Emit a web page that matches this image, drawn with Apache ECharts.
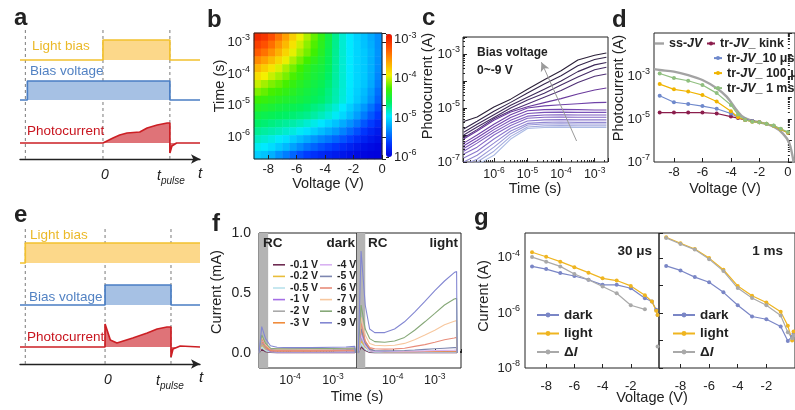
<!DOCTYPE html>
<html>
<head>
<meta charset="utf-8">
<title>Transient photocurrent panels</title>
<script src="https://cdn.jsdelivr.net/npm/echarts@6.0.0/dist/echarts.min.js"></script>
<style>
  html, body { margin: 0; padding: 0; background: #fff; }
  #chart { width: 795px; height: 410px; }
</style>
</head>
<body>
<div id="chart"></div>
<script>
const FONT = '"Liberation Sans", Arial, Helvetica, sans-serif';
const INK = '#222';

/* ---------- a, e: timing schematics (time in units of t_pulse, levels in arbitrary units) ---------- */
const A_LIGHT = [[-1.24, 9.9], [0, 9.9], [0, 11.9], [1, 11.9], [1, 9.9], [1.45, 9.9]];
const A_BIAS  = [[-1.24, 5.9], [-1.13, 5.9], [-1.13, 7.8], [1, 7.8], [1, 5.9], [1.45, 5.9]];
const A_PHOTO = [[-1.24, 1.6], [0, 1.6], [0.15, 2.1], [0.25, 2.4], [0.36, 2.6], [0.55, 2.7], [0.66, 3.1],
                 [0.81, 3.4], [0.96, 3.6], [1, 3.6], [1, 0.6], [1.03, 1.3], [1.1, 1.6], [1.45, 1.6]];
const A_BASE  = [9.9, 5.9, 1.6];
const A_MARKS = [-1.16, 0, 1];

const E_LIGHT = [[-1.29, 10.1], [-1.21, 10.1], [-1.21, 12.1], [1.44, 12.1]];
const E_BIAS  = [[-1.29, 5.9], [0, 5.9], [0, 7.9], [1, 7.9], [1, 5.9], [1.44, 5.9]];
const E_PHOTO = [[-1.29, 1.7], [0, 1.7], [0, 4.0], [0.08, 2.4], [0.18, 2.1], [0.42, 2.6], [0.64, 3.1],
                 [0.79, 3.5], [0.94, 3.7], [1, 3.7], [1, 0.7], [1.03, 1.5], [1.14, 1.8], [1.44, 1.7]];
const E_BASE  = [10.1, 5.9, 1.7];
const E_MARKS = [-1.21, 0, 1];

/* ---------- b: log10 photocurrent map over bias voltage and time ---------- */
const HM_VOLT = [-8.75, -8.25, -7.75, -7.25, -6.75, -6.25, -5.75, -5.25, -4.75, -4.25, -3.75, -3.25, -2.75, -2.25, -1.75, -1.25, -0.75, -0.25];
const HM_LOGT = [-2.825, -3.075, -3.325, -3.575, -3.825, -4.075, -4.325, -4.575, -4.825, -5.075, -5.325, -5.575, -5.825, -6.075, -6.325, -6.575];
const HM_ROWS = [
  [-2.99,-3.06,-3.19,-3.36,-3.55,-3.75,-3.91,-4.04,-4.18,-4.33,-4.5,-4.7,-4.85,-4.95,-5.04,-5.11,-5.2,-5.3],
  [-3.12,-3.2,-3.33,-3.5,-3.66,-3.84,-3.98,-4.1,-4.22,-4.36,-4.52,-4.7,-4.85,-4.95,-5.03,-5.1,-5.18,-5.3],
  [-3.25,-3.35,-3.48,-3.63,-3.78,-3.93,-4.05,-4.15,-4.26,-4.39,-4.54,-4.71,-4.85,-4.95,-5.03,-5.08,-5.16,-5.29],
  [-3.45,-3.55,-3.67,-3.79,-3.92,-4.04,-4.15,-4.25,-4.35,-4.44,-4.56,-4.72,-4.85,-4.95,-5.03,-5.08,-5.17,-5.3],
  [-3.65,-3.75,-3.85,-3.95,-4.05,-4.15,-4.25,-4.35,-4.43,-4.48,-4.58,-4.73,-4.85,-4.95,-5.03,-5.08,-5.17,-5.31],
  [-3.82,-3.9,-3.99,-4.06,-4.14,-4.23,-4.31,-4.39,-4.46,-4.51,-4.61,-4.74,-4.85,-4.95,-5.03,-5.08,-5.18,-5.34],
  [-3.99,-4.06,-4.13,-4.18,-4.24,-4.31,-4.38,-4.44,-4.5,-4.55,-4.64,-4.75,-4.85,-4.95,-5.03,-5.09,-5.2,-5.37],
  [-4.13,-4.18,-4.24,-4.28,-4.33,-4.38,-4.44,-4.49,-4.54,-4.59,-4.67,-4.77,-4.86,-4.96,-5.05,-5.13,-5.25,-5.43],
  [-4.27,-4.3,-4.34,-4.38,-4.42,-4.45,-4.49,-4.53,-4.58,-4.62,-4.69,-4.78,-4.87,-4.97,-5.07,-5.16,-5.29,-5.48],
  [-4.39,-4.42,-4.45,-4.49,-4.52,-4.55,-4.58,-4.62,-4.67,-4.71,-4.78,-4.86,-4.95,-5.05,-5.16,-5.27,-5.41,-5.57],
  [-4.51,-4.54,-4.56,-4.59,-4.61,-4.64,-4.67,-4.7,-4.75,-4.8,-4.86,-4.93,-5.02,-5.12,-5.24,-5.38,-5.52,-5.65],
  [-4.61,-4.64,-4.67,-4.7,-4.73,-4.76,-4.8,-4.85,-4.9,-4.96,-5.03,-5.1,-5.19,-5.29,-5.4,-5.53,-5.64,-5.75],
  [-4.71,-4.74,-4.77,-4.8,-4.84,-4.88,-4.93,-4.99,-5.05,-5.12,-5.19,-5.26,-5.35,-5.45,-5.56,-5.67,-5.76,-5.84],
  [-4.82,-4.85,-4.89,-4.94,-4.99,-5.06,-5.13,-5.2,-5.27,-5.34,-5.4,-5.47,-5.54,-5.62,-5.71,-5.79,-5.85,-5.9],
  [-4.92,-4.95,-5.0,-5.07,-5.14,-5.23,-5.32,-5.41,-5.48,-5.55,-5.61,-5.67,-5.73,-5.79,-5.85,-5.9,-5.93,-5.96],
  [-5.06,-5.1,-5.17,-5.28,-5.37,-5.47,-5.56,-5.64,-5.7,-5.75,-5.79,-5.83,-5.86,-5.9,-5.93,-5.96,-5.98,-5.99]
];
const HM_COLORS = ['#0000dc', '#0038ff', '#0090ff', '#00eaff', '#00f060', '#40f000', '#f4f000', '#ffa000', '#ff5000', '#e81000'];
const HM_MARK_T = [1e-3, 1e-4, 1e-5];
const HM_MARK_TXT = ['1 ms', '100 \u03bcs', '10 \u03bcs'];

/* ---------- c: photocurrent transients, one row per bias (log10 A), -9 V first ---------- */
const C_TIME = [1.26e-7, 3.16e-7, 1e-6, 3.16e-6, 1e-5, 3.16e-5, 1e-4, 3.16e-4, 1e-3, 2.24e-3];
const C_LOGI = [
  [-5.5, -5.33, -4.96, -4.67, -4.3, -3.95, -3.62, -3.22, -3.04, -2.96],
  [-5.78, -5.49, -5.12, -4.79, -4.44, -4.11, -3.8, -3.43, -3.2, -3.12],
  [-5.9, -5.6, -5.25, -4.9, -4.6, -4.3, -4.0, -3.65, -3.4, -3.31],
  [-6.0, -5.7, -5.35, -5.0, -4.7, -4.45, -4.15, -3.85, -3.58, -3.49],
  [-6.1, -5.8, -5.4, -5.1, -4.85, -4.6, -4.35, -4.05, -3.82, -3.74],
  [-6.15, -5.85, -5.45, -5.15, -4.95, -4.8, -4.65, -4.48, -4.33, -4.26],
  [-6.3, -6.0, -5.6, -5.25, -5.0, -4.92, -4.88, -4.84, -4.8, -4.79],
  [-6.4, -6.1, -5.7, -5.35, -5.1, -5.06, -5.05, -5.06, -5.07, -5.07],
  [-6.5, -6.2, -5.8, -5.45, -5.2, -5.16, -5.15, -5.16, -5.16, -5.16],
  [-6.6, -6.3, -5.9, -5.55, -5.3, -5.26, -5.25, -5.26, -5.26, -5.26],
  [-6.7, -6.45, -6.0, -5.65, -5.38, -5.34, -5.33, -5.34, -5.34, -5.34],
  [-6.85, -6.6, -6.15, -5.75, -5.48, -5.44, -5.43, -5.44, -5.44, -5.44],
  [-7.0, -6.75, -6.3, -5.85, -5.57, -5.53, -5.52, -5.53, -5.53, -5.53],
  [-7.1, -6.9, -6.45, -5.95, -5.63, -5.59, -5.58, -5.59, -5.59, -5.59],
  [-7.2, -7.0, -6.6, -6.05, -5.7, -5.66, -5.65, -5.66, -5.66, -5.66],
  [-7.3, -7.1, -6.75, -6.15, -5.76, -5.72, -5.71, -5.72, -5.72, -5.72]
];
const C_COLORS = ['#2b2038', '#33244a', '#3c2857', '#452c66', '#4f3075', '#6a3a9c', '#6f42a8', '#7446b0', '#7a52b8', '#7f5ec0',
                  '#8568c6', '#8b78cc', '#9288d2', '#9a99d8', '#a3aade', '#acbbe4'];
const C_ARROW = [[2.9e-4, 6e-7], [2.6e-5, 5e-4]];

/* ---------- d: steady-state and transient J-V ---------- */
const D_SS_V = [-9.4, -9, -8, -7, -6, -5, -4.3, -3.7, -3.25, -2.7, -2, -1, -0.35, 0.1, 0.4];
const D_SS_I = [2.1e-3, 1.9e-3, 1.6e-3, 1.1e-3, 6.5e-4, 2.7e-4, 1.1e-4, 3.2e-5, 1.4e-5, 9e-6, 7e-6, 4.4e-6, 2.1e-6, 7.6e-7, 1e-7];
const D_V = [-9, -8, -7, -6, -5, -4, -3.5, -3, -2.5, -2, -1.5, -1, -0.5, 0];
const D_KINK = [2.0e-5, 2.0e-5, 2.0e-5, 2.0e-5, 1.8e-5, 1.3e-5, 1.1e-5, 9e-6, 8e-6, 7e-6];
const D_10US = [1.2e-4, 6e-5, 5e-5, 4e-5, 3e-5, 1.8e-5, 1.2e-5, 9.5e-6, 8e-6, 7e-6, 6e-6, 4.8e-6, 3.3e-6, 2.3e-6];
const D_100US = [4.2e-4, 2.4e-4, 1.9e-4, 1.3e-4, 6.5e-5, 2.3e-5, 1.2e-5, 9e-6, 7.5e-6, 7e-6, 6e-6, 4.8e-6, 3.3e-6, 2.3e-6];
const D_1MS = [1.3e-3, 8e-4, 6e-4, 3.8e-4, 1.6e-4, 4.5e-5, 1.6e-5, 9e-6, 7.5e-6, 7e-6, 6e-6, 5e-6, 3.5e-6, 2.5e-6];

/* ---------- f: current transients (mA) in dark and under light ---------- */
const F_VOLTS = ['-0.1 V', '-0.2 V', '-0.5 V', '-1 V', '-2 V', '-3 V', '-4 V', '-5 V', '-6 V', '-7 V', '-8 V', '-9 V'];
const F_COLORS = ['#6e2c52', '#e9bd3a', '#b9e2ec', '#a46ee6', '#a9a9a9', '#f08c3c', '#d9b2f2', '#7d86b0', '#e88c7a', '#f7c79e', '#86a878', '#8387d2'];
const F_T_DARK = [1.9e-5, 2.2e-5, 2.7e-5, 3.5e-5, 5e-5, 1e-4, 3e-4, 1e-3, 2e-3, 3.2e-3, 3.3e-3];
const F_DARK = [
  [0, 0.03, 0.01, 0.004, 0.003, 0.003, 0.003, 0.003, 0.003, 0.003, 0],
  [0, 0.07, 0.03, 0.012, 0.01, 0.01, 0.01, 0.01, 0.011, 0.012, 0],
  [0, 0.05, 0.02, 0.008, 0.006, 0.006, 0.006, 0.006, 0.006, 0.006, 0],
  [0, 0.09, 0.04, 0.012, 0.008, 0.008, 0.008, 0.008, 0.008, 0.008, 0],
  [0, 0.08, 0.04, 0.03, 0.03, 0.03, 0.03, 0.032, 0.034, 0.036, 0],
  [0, 0.1, 0.05, 0.02, 0.018, 0.018, 0.018, 0.02, 0.021, 0.022, 0],
  [0, 0.11, 0.06, 0.04, 0.038, 0.038, 0.038, 0.04, 0.042, 0.045, 0],
  [0, 0.12, 0.06, 0.03, 0.025, 0.025, 0.025, 0.026, 0.028, 0.03, 0],
  [0, 0.12, 0.06, 0.025, 0.02, 0.02, 0.02, 0.021, 0.022, 0.023, 0],
  [0, 0.14, 0.07, 0.035, 0.032, 0.032, 0.032, 0.034, 0.035, 0.036, 0],
  [0, 0.15, 0.08, 0.04, 0.036, 0.036, 0.037, 0.038, 0.04, 0.042, 0],
  [0, 0.22, 0.12, 0.06, 0.048, 0.045, 0.045, 0.048, 0.05, 0.056, 0]
];
const F_T_LIGHT = [1.5e-5, 1.75e-5, 2.2e-5, 2.8e-5, 3.7e-5, 6.4e-5, 1.1e-4, 1.9e-4, 3.3e-4, 5.8e-4, 1e-3, 1.7e-3, 2.9e-3, 3.3e-3, 3.4e-3];
const F_LIGHT = [
  [0, 0.05, 0.02, 0.005, 0.003, 0.003, 0.003, 0.003, 0.003, 0.003, 0.003, 0.003, 0.003, 0.003, 0],
  [0, 0.1, 0.05, 0.02, 0.01, 0.008, 0.008, 0.008, 0.008, 0.008, 0.008, 0.008, 0.008, 0.008, 0],
  [0, 0.08, 0.03, 0.01, 0.006, 0.005, 0.005, 0.005, 0.005, 0.005, 0.005, 0.005, 0.005, 0.005, 0],
  [0, 0.15, 0.08, 0.03, 0.012, 0.01, 0.01, 0.01, 0.01, 0.01, 0.01, 0.01, 0.01, 0.01, 0],
  [0, 0.12, 0.06, 0.02, 0.01, 0.008, 0.008, 0.008, 0.008, 0.008, 0.008, 0.008, 0.008, 0.008, 0],
  [0, 0.2, 0.1, 0.04, 0.015, 0.01, 0.01, 0.01, 0.011, 0.012, 0.013, 0.014, 0.015, 0.015, 0],
  [0, 0.15, 0.06, 0.02, 0.012, 0.012, 0.013, 0.014, 0.016, 0.018, 0.02, 0.022, 0.024, 0.025, 0],
  [0, 0.2, 0.08, 0.03, 0.02, 0.018, 0.019, 0.021, 0.025, 0.03, 0.035, 0.04, 0.045, 0.046, 0],
  [0, 0.25, 0.1, 0.045, 0.035, 0.032, 0.034, 0.04, 0.055, 0.07, 0.09, 0.11, 0.125, 0.13, 0],
  [0, 0.3, 0.15, 0.08, 0.065, 0.06, 0.065, 0.08, 0.11, 0.15, 0.19, 0.235, 0.265, 0.27, 0],
  [0, 0.4, 0.2, 0.12, 0.095, 0.09, 0.1, 0.13, 0.19, 0.26, 0.33, 0.4, 0.45, 0.455, 0],
  [0, 0.85, 0.4, 0.2, 0.17, 0.17, 0.2, 0.26, 0.34, 0.43, 0.52, 0.6, 0.67, 0.68, 0]
];
const F_RC_DARK = [1.9e-5, 3.1e-5];
const F_RC_LIGHT = [1.4e-5, 2.2e-5];

/* ---------- g: dark / light / difference current at 30 us and 1 ms ---------- */
const G_V = [-9, -8, -7, -6, -5, -4, -3, -2, -1, -0.5, -0.2, -0.1];
const G30_DARK  = [4.9e-5, 3.9e-5, 2.8e-5, 2.2e-5, 1.6e-5, 1.05e-5, 1.05e-5, 7.9e-6, 3.4e-6, 2.6e-6, 1.3e-6, 8.5e-7];
const G30_LIGHT = [1.6e-4, 1.1e-4, 7.3e-5, 4.6e-5, 2.9e-5, 1.8e-5, 1.5e-5, 9.6e-6, 4.4e-6, 2.6e-6, 1.2e-6, 8.5e-7];
const G30_DELTA = [1.07e-4, 7.3e-5, 4.9e-5, 2.6e-5, 1.6e-5, 9.1e-6, 5.2e-6, 1.9e-6, 1.35e-6, '-', '-', 6e-8];
const G1_DARK  = [5.1e-5, 3.5e-5, 2e-5, 1.3e-5, 5.6e-6, 1.9e-6, 7.4e-7, 5.9e-7, 3.2e-7, 9.6e-8, 1.4e-7, 1.8e-7];
const G1_LIGHT = [5.6e-4, 3.4e-4, 2.1e-4, 9.8e-5, 3.7e-5, 9.6e-6, 4.2e-6, 2.4e-6, 1.1e-6, 3.4e-7, 1e-7, 2.1e-7];
const G1_DELTA = [5.3e-4, 3.2e-4, 2e-4, 9e-5, 3.3e-5, 8e-6, 3.5e-6, 1.9e-6, 8e-7, 2e-7, 1.2e-7, 1.5e-7];
const G_COLORS = {dark: '#7a86c6', light: '#efb520', delta: '#a9a9a9'};

/* ---------- helpers ---------- */
const series = [];
function add(s) { series.push(s); return series.length - 1; }

const tickIn = {show: true, inside: true, length: 4, lineStyle: {color: INK, width: 1}};
const minorIn = {show: true, splitNumber: 9, length: 2, lineStyle: {color: INK, width: 1}};
function supLabel(keep, size, margin) {
  return {
    show: true, margin: margin, color: INK, fontFamily: FONT,
    formatter: function (v) {
      const l = Math.log10(v), e = Math.round(l);
      if (Math.abs(l - e) > 1e-6 || !keep(e)) return '';
      return '{b|10}{s|' + e + '}';
    },
    rich: {
      b: {fontSize: size, fontFamily: FONT, color: INK, lineHeight: size + 5},
      s: {fontSize: size - 4, fontFamily: FONT, color: INK, verticalAlign: 'top'}
    }
  };
}
const any = () => true;
const oddLow = e => Math.abs(e) % 2 === 1 && e <= -3;
const even = e => Math.abs(e) % 2 === 0;

function numLabel(size, margin, values, fmt) {
  return {show: true, margin: margin, color: INK, fontFamily: FONT, fontSize: size, customValues: values,
          formatter: fmt || (v => String(v))};
}

/* ---------- axes ---------- */
const grids = [
  {left: 20, top: 25, width: 180, height: 134, show: false},
  {left: 20, top: 225, width: 180, height: 139, show: false},
  {left: 254, top: 33, width: 128, height: 126, show: false},
  {left: 254, top: 33, width: 128, height: 126, show: true, borderColor: INK, borderWidth: 1, backgroundColor: 'transparent', z: 5},
  {left: 386, top: 34, width: 6, height: 123, show: false},
  {left: 463, top: 37, width: 145, height: 125, show: true, borderColor: INK, borderWidth: 1},
  {left: 654, top: 33, width: 141, height: 129, show: true, borderColor: INK, borderWidth: 1},
  {left: 259, top: 233, width: 98, height: 135, show: true, borderColor: INK, borderWidth: 1},
  {left: 357, top: 233, width: 104, height: 135, show: true, borderColor: INK, borderWidth: 1},
  {left: 525, top: 233, width: 134, height: 135, show: true, borderColor: INK, borderWidth: 1},
  {left: 659, top: 233, width: 136, height: 135, show: true, borderColor: INK, borderWidth: 1}
];
grids.forEach(g => { g.outerBoundsMode = 'none'; g.containLabel = false; });

const noSplit = {show: false};
const hidden = {show: false};
const arrowLine = {show: true, onZero: true, symbol: ['none', 'arrow'], symbolSize: [7, 9], lineStyle: {color: INK, width: 1.4}};

const xAxes = [
  {gridIndex: 0, type: 'value', min: -1.24, max: 1.45, axisLine: arrowLine, axisTick: hidden, axisLabel: hidden, splitLine: noSplit},
  {gridIndex: 1, type: 'value', min: -1.29, max: 1.44, axisLine: arrowLine, axisTick: hidden, axisLabel: hidden, splitLine: noSplit},
  {gridIndex: 2, type: 'category', data: HM_VOLT, show: false},
  {gridIndex: 3, type: 'value', min: -9, max: 0, z: 6, axisLine: hidden, splitLine: noSplit,
   axisTick: Object.assign({customValues: [-8, -6, -4, -2, 0]}, tickIn),
   axisLabel: numLabel(13, 4, [-8, -6, -4, -2, 0])},
  {gridIndex: 4, type: 'value', show: false},
  {gridIndex: 5, type: 'log', min: 1.2e-7, max: 2.5e-3, axisLine: hidden, splitLine: noSplit, axisTick: tickIn,
   minorTick: minorIn, minorSplitLine: noSplit, axisLabel: supLabel(any, 12.5, 4)},
  {gridIndex: 6, type: 'value', min: -9.4, max: 0.5, axisLine: hidden, splitLine: noSplit,
   axisTick: Object.assign({customValues: [-8, -6, -4, -2, 0]}, tickIn),
   axisLabel: numLabel(13, 4, [-8, -6, -4, -2, 0])},
  {gridIndex: 7, type: 'log', min: 1.9e-5, max: 3.6e-3, axisLine: hidden, splitLine: noSplit, axisTick: tickIn,
   minorTick: minorIn, minorSplitLine: noSplit, axisLabel: supLabel(any, 12.5, 4)},
  {gridIndex: 8, type: 'log', min: 1.4e-5, max: 4.2e-3, axisLine: hidden, splitLine: noSplit, axisTick: tickIn,
   minorTick: minorIn, minorSplitLine: noSplit, axisLabel: supLabel(any, 12.5, 4)},
  {gridIndex: 9, type: 'value', min: -9.5, max: 0, axisLine: hidden, splitLine: noSplit,
   axisTick: Object.assign({customValues: [-8, -6, -4, -2]}, tickIn),
   axisLabel: numLabel(13, 12, [-8, -6, -4, -2])},
  {gridIndex: 10, type: 'value', min: -9.5, max: 0, axisLine: hidden, splitLine: noSplit,
   axisTick: Object.assign({customValues: [-8, -6, -4, -2]}, tickIn),
   axisLabel: numLabel(13, 12, [-8, -6, -4, -2])}
];

const yAxes = [
  {gridIndex: 0, type: 'value', min: 0, max: 13.4, show: false},
  {gridIndex: 1, type: 'value', min: 0, max: 13.9, show: false},
  {gridIndex: 2, type: 'category', data: HM_LOGT.slice().reverse(), show: false},
  {gridIndex: 3, type: 'log', min: Math.pow(10, -6.7), max: Math.pow(10, -2.7), z: 6, axisLine: hidden, splitLine: noSplit,
   axisTick: tickIn, axisLabel: supLabel(any, 13, 4)},
  {gridIndex: 4, type: 'log', position: 'right', min: 1e-6, max: Math.pow(10, -2.85), axisLine: hidden, splitLine: noSplit,
   axisTick: {show: true, inside: false, length: 3, lineStyle: {color: INK}}, axisLabel: supLabel(any, 13, 2)},
  {gridIndex: 5, type: 'log', min: 1e-7, max: 4.3e-3, axisLine: hidden, splitLine: noSplit, axisTick: tickIn,
   minorTick: minorIn, minorSplitLine: noSplit, axisLabel: supLabel(oddLow, 13, 3)},
  {gridIndex: 6, type: 'log', min: 1e-7, max: 1e-1, axisLine: hidden, splitLine: noSplit, axisTick: tickIn,
   minorTick: minorIn, minorSplitLine: noSplit, axisLabel: supLabel(oddLow, 13, 4)},
  {gridIndex: 7, type: 'value', min: -0.125, max: 1, axisLine: hidden, splitLine: noSplit,
   axisTick: Object.assign({customValues: [0, 0.25, 0.5, 0.75, 1]}, tickIn),
   axisLabel: numLabel(14, 8, [0, 0.5, 1], v => v.toFixed(1))},
  {gridIndex: 8, type: 'value', min: -0.125, max: 1, show: false},
  {gridIndex: 9, type: 'log', min: 1e-8, max: 8e-4, axisLine: hidden, splitLine: noSplit, axisTick: tickIn,
   axisLabel: supLabel(even, 13, 5)},
  {gridIndex: 10, type: 'log', min: 1e-8, max: 8e-4, axisLine: hidden, splitLine: noSplit, axisTick: hidden, axisLabel: hidden}
];

/* ---------- a, e schematics ---------- */
const PULSE_COLORS = [
  {line: '#f2c12e', fill: '#fcd88a'},
  {line: '#4a7ec4', fill: '#a6c1e4'},
  {line: '#cc1f24', fill: '#df7378'}
];
function schematic(grid, traces, bases, marks, top) {
  marks.forEach(t => add({type: 'line', xAxisIndex: grid, yAxisIndex: grid, data: [[t, 0], [t, top]], symbol: 'none', silent: true,
    lineStyle: {color: '#7a7a7a', width: 1, type: [3, 3]}, z: 2}));
  traces.forEach((d, i) => add({type: 'line', xAxisIndex: grid, yAxisIndex: grid, data: d, symbol: 'none', silent: true,
    lineStyle: {color: PULSE_COLORS[i].line, width: 1.7},
    areaStyle: {color: PULSE_COLORS[i].fill, opacity: 1, origin: bases[i]}, z: 3}));
}
schematic(0, [A_LIGHT, A_BIAS, A_PHOTO], A_BASE, A_MARKS, 13.0);
schematic(1, [E_LIGHT, E_BIAS, E_PHOTO], E_BASE, E_MARKS, 13.6);

/* ---------- b heat map ---------- */
const hmData = [];
HM_ROWS.forEach((row, r) => row.forEach((v, c) => hmData.push([c, HM_ROWS.length - 1 - r, v])));
const heatIdx = add({type: 'heatmap', xAxisIndex: 2, yAxisIndex: 2, data: hmData, silent: true, itemStyle: {borderWidth: 0}});
add({type: 'line', xAxisIndex: 3, yAxisIndex: 3, data: [[-9, 1e-3]], symbol: 'none', silent: true, z: 6,
  markLine: {silent: true, symbol: 'none', animation: false,
    lineStyle: {color: 'rgba(255,255,255,0.95)', type: [3, 2], width: 1},
    label: {show: true, position: 'insideEndBottom', color: '#8c8c8c', fontWeight: 'bold', fontSize: 11.5, fontFamily: FONT, distance: [2, 5]},
    data: HM_MARK_T.map((t, i) => ({yAxis: t, label: {formatter: HM_MARK_TXT[i]}}))}});

/* ---------- c transients ---------- */
C_LOGI.forEach((row, i) => {
  const s = {type: 'line', xAxisIndex: 5, yAxisIndex: 5, data: row.map((l, j) => [C_TIME[j], Math.pow(10, l)]),
    symbol: 'none', silent: true, lineStyle: {color: C_COLORS[i], width: 1.1}, z: 3};
  if (i === 0) {
    s.markLine = {silent: true, symbol: ['none', 'arrow'], symbolSize: [7, 9], animation: false, label: {show: false},
      lineStyle: {color: '#9a9a9a', width: 1, type: 'solid'},
      data: [[{coord: C_ARROW[0]}, {coord: C_ARROW[1]}]]};
  }
  add(s);
});

/* ---------- d J-V ---------- */
const zip = (xs, ys) => ys.map((y, i) => [xs[i], y]);
add({name: 'ss-JV', type: 'line', xAxisIndex: 6, yAxisIndex: 6, data: zip(D_SS_V, D_SS_I), smooth: 0.3, symbol: 'none',
  lineStyle: {color: '#a3a3a3', width: 2.4}, itemStyle: {color: '#a3a3a3'}, z: 2});
[['tr-JV_ kink', D_KINK, '#8b1d4c'], ['tr-JV_10 \u03bcs', D_10US, '#6f89cc'],
 ['tr-JV_ 100 \u03bcs', D_100US, '#f0b400'], ['tr-JV_ 1 ms', D_1MS, '#8fbf7f']].forEach(([name, ys, col]) => {
  add({name: name, type: 'line', xAxisIndex: 6, yAxisIndex: 6, data: zip(D_V, ys), symbol: 'circle', symbolSize: 4,
    lineStyle: {color: col, width: 1.2}, itemStyle: {color: col}, z: 3});
});

/* ---------- f current transients ---------- */
add({type: 'line', xAxisIndex: 7, yAxisIndex: 7, data: [[F_RC_DARK[0], -0.2]], symbol: 'none', silent: true, z: 1,
  markArea: {silent: true, itemStyle: {color: '#b4b4b4'}, data: [[{xAxis: F_RC_DARK[0]}, {xAxis: F_RC_DARK[1]}]]}});
add({type: 'line', xAxisIndex: 8, yAxisIndex: 8, data: [[F_RC_LIGHT[0], -0.2]], symbol: 'none', silent: true, z: 1,
  markArea: {silent: true, itemStyle: {color: '#b4b4b4'}, data: [[{xAxis: F_RC_LIGHT[0]}, {xAxis: F_RC_LIGHT[1]}]]}});
F_VOLTS.forEach((name, i) => {
  add({name: name, type: 'line', xAxisIndex: 7, yAxisIndex: 7, data: zip(F_T_DARK, F_DARK[i]), symbol: 'none',
    lineStyle: {color: F_COLORS[i], width: 1.1}, itemStyle: {color: F_COLORS[i]}, z: 3});
  add({name: name, type: 'line', xAxisIndex: 8, yAxisIndex: 8, data: zip(F_T_LIGHT, F_LIGHT[i]), symbol: 'none',
    lineStyle: {color: F_COLORS[i], width: 1.1}, itemStyle: {color: F_COLORS[i]}, z: 3});
});

/* ---------- g dark / light / difference ---------- */
function gSeries(grid, dark, light, delta) {
  [['dark', dark, G_COLORS.dark], ['light', light, G_COLORS.light], ['\u0394I', delta, G_COLORS.delta]].forEach(([name, ys, col]) => {
    add({name: name, type: 'line', xAxisIndex: grid, yAxisIndex: grid, data: zip(G_V, ys), symbol: 'circle', symbolSize: 4,
      connectNulls: false, lineStyle: {color: col, width: 1.2}, itemStyle: {color: col}, z: 3});
  });
}
gSeries(9, G30_DARK, G30_LIGHT, G30_DELTA);
gSeries(10, G1_DARK, G1_LIGHT, G1_DELTA);

/* ---------- legends ---------- */
const jvRich = {b: {fontWeight: 'bold', fontSize: 12.5, fontFamily: FONT, color: INK},
                i: {fontWeight: 'bold', fontStyle: 'italic', fontSize: 12.5, fontFamily: FONT, color: INK}};
const jvText = {'ss-JV': '{b|ss-}{i|JV}', 'tr-JV_ kink': '{b|tr-}{i|JV}{b|_ kink}', 'tr-JV_10 \u03bcs': '{b|tr-}{i|JV}{b|_10 \u03bcs}',
                'tr-JV_ 100 \u03bcs': '{b|tr-}{i|JV}{b|_ 100 \u03bcs}', 'tr-JV_ 1 ms': '{b|tr-}{i|JV}{b|_ 1 ms}'};
const gRich = {b: {fontWeight: 'bold', fontSize: 13.5, fontFamily: FONT, color: INK},
               i: {fontWeight: 'bold', fontStyle: 'italic', fontSize: 13.5, fontFamily: FONT, color: INK}};
const gText = n => n === '\u0394I' ? '{b|\u0394}{i|I}' : '{b|' + n + '}';
const fLegend = (names, left) => ({
  data: names.map(n => ({name: n, icon: 'rect'})), left: left, top: 259, orient: 'vertical', itemGap: 0,
  itemWidth: 12, itemHeight: 1.6, selectedMode: false,
  padding: 0, textStyle: {fontFamily: FONT, fontSize: 10.5, fontWeight: 'bold', color: INK, lineHeight: 11.6}
});
const jvLegend = (names, left, top, icon) => ({
  data: names.map(n => icon ? {name: n, icon: icon} : n), left: left, top: top, orient: 'vertical',
  itemGap: 2, itemWidth: icon ? 9 : 8, itemHeight: icon ? 2.4 : 5, selectedMode: false, padding: 0,
  formatter: n => jvText[n], textStyle: {rich: jvRich, lineHeight: 12.6}
});
const legends = [
  jvLegend(['ss-JV'], 655, 37, 'rect'),
  jvLegend(['tr-JV_ kink'], 706, 37),
  jvLegend(['tr-JV_10 \u03bcs', 'tr-JV_ 100 \u03bcs', 'tr-JV_ 1 ms'], 713, 51.6),
  fLegend(F_VOLTS.slice(0, 6), 273),
  fLegend(F_VOLTS.slice(6), 320),
  {data: ['dark', 'light', '\u0394I'], left: 536, top: 308, orient: 'vertical', itemGap: 4.5, itemWidth: 22, itemHeight: 6,
   selectedMode: false, padding: 0, formatter: gText, textStyle: {rich: gRich, lineHeight: 13}},
  {data: ['dark', 'light', '\u0394I'], left: 672, top: 308, orient: 'vertical', itemGap: 4.5, itemWidth: 22, itemHeight: 6,
   selectedMode: false, padding: 0, formatter: gText, textStyle: {rich: gRich, lineHeight: 13}}
];

/* ---------- text annotations ---------- */
function txt(x, y, text, o) {
  o = o || {};
  return {type: 'text', x: x, y: y, rotation: o.rot || 0, z: 100, silent: true,
    style: {text: text, fill: o.color || INK, fontFamily: FONT, fontSize: o.size || 14,
      fontWeight: o.bold ? 'bold' : 'normal', fontStyle: o.italic ? 'italic' : 'normal',
      align: o.align || 'left', verticalAlign: o.va || 'middle', rich: o.rich}};
}
const tpRich = {i: {fontStyle: 'italic', fontSize: 14, fontFamily: FONT, color: INK},
                s: {fontStyle: 'italic', fontSize: 10, fontFamily: FONT, color: INK, verticalAlign: 'bottom', lineHeight: 20}};
const graphics = [
  txt(14, 18, 'a', {size: 24, bold: true}), txt(207, 20, 'b', {size: 24, bold: true}),
  txt(422, 18, 'c', {size: 24, bold: true}), txt(612, 20, 'd', {size: 24, bold: true}),
  txt(14, 215, 'e', {size: 24, bold: true}), txt(212, 224, 'f', {size: 24, bold: true}),
  txt(474, 218, 'g', {size: 24, bold: true}),
  // a
  txt(32, 46, 'Light bias', {size: 13.5, color: '#ebb928'}),
  txt(30, 71, 'Bias voltage', {size: 13.5, color: '#5282c3'}),
  txt(27, 131, 'Photocurrent', {size: 13.5, color: '#c8141e'}),
  txt(105, 175, '0', {size: 14, italic: true, align: 'center'}),
  txt(157, 176, '{i|t}{s|pulse}', {rich: tpRich}),
  txt(200, 174, 't', {size: 15, italic: true, align: 'center'}),
  // e
  txt(30, 235, 'Light bias', {size: 13.5, color: '#ebb928'}),
  txt(29, 297, 'Bias voltage', {size: 13.5, color: '#5282c3'}),
  txt(27, 337, 'Photocurrent', {size: 13.5, color: '#c8141e'}),
  txt(108, 380, '0', {size: 14, italic: true, align: 'center'}),
  txt(156, 381, '{i|t}{s|pulse}', {rich: tpRich}),
  txt(201, 378, 't', {size: 15, italic: true, align: 'center'}),
  // b
  txt(220, 86, 'Time (s)', {size: 14.5, align: 'center', rot: Math.PI / 2}),
  txt(328, 184, 'Voltage (V)', {size: 14.5, align: 'center'}),
  // c
  txt(428, 86, 'Photocurrent (A)', {size: 14.5, align: 'center', rot: Math.PI / 2}),
  txt(535, 189, 'Time (s)', {size: 14.5, align: 'center'}),
  txt(477, 53, 'Bias voltage', {size: 12, bold: true}),
  txt(477, 71, '0~-9 V', {size: 12, bold: true}),
  // d
  txt(619, 88, 'Photocurrent (A)', {size: 14.5, align: 'center', rot: Math.PI / 2}),
  txt(725, 189, 'Voltage (V)', {size: 14.5, align: 'center'}),
  // f
  txt(217, 292, 'Current (mA)', {size: 14.5, align: 'center', rot: Math.PI / 2}),
  txt(357, 397, 'Time (s)', {size: 14.5, align: 'center'}),
  txt(263, 243, 'RC', {size: 13.5, bold: true}),
  txt(355, 243, 'dark', {size: 13.5, bold: true, align: 'right'}),
  txt(368, 243, 'RC', {size: 13.5, bold: true}),
  txt(458, 243, 'light', {size: 13.5, bold: true, align: 'right'}),
  // g
  txt(484, 296, 'Current (A)', {size: 14.5, align: 'center', rot: Math.PI / 2}),
  txt(652, 398, 'Voltage (V)', {size: 14.5, align: 'center'}),
  txt(652, 251, '30 \u03bcs', {size: 13.5, bold: true, align: 'right'}),
  txt(783, 251, '1 ms', {size: 13.5, bold: true, align: 'right'})
];

const option = {
  animation: false,
  backgroundColor: '#fff',
  textStyle: {fontFamily: FONT},
  grid: grids,
  xAxis: xAxes,
  yAxis: yAxes,
  visualMap: {
    type: 'continuous', seriesIndex: heatIdx, dimension: 2, min: -6, max: -2.85,
    inRange: {color: HM_COLORS}, calculable: false, orient: 'vertical',
    left: 386, top: 34, itemWidth: 6, itemHeight: 123, padding: 0, text: null, hoverLink: false
  },
  legend: legends,
  series: series,
  graphic: graphics
};

const chart = echarts.init(document.getElementById('chart'), null, {renderer: 'canvas'});
chart.setOption(option);
</script>
</body>
</html>
